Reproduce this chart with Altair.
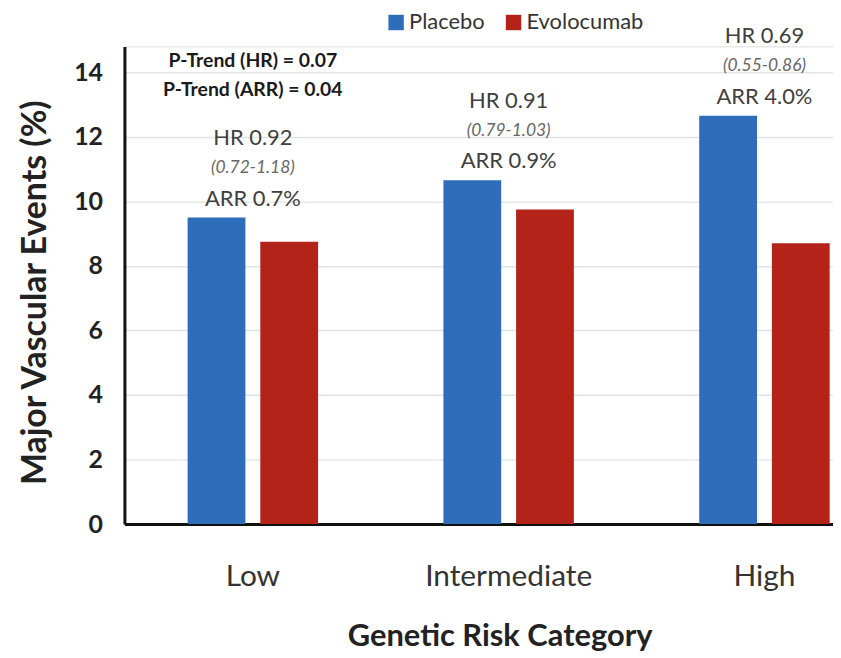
import altair as alt
import pandas as pd

categories = ["Low", "Intermediate", "High"]
series = ["Placebo", "Evolocumab"]
placebo = [9.5, 10.65, 12.65]
evolocumab = [8.75, 9.75, 8.7]
hr_text = ["HR 0.92", "HR 0.91", "HR 0.69"]
ci_text = ["(0.72-1.18)", "(0.79-1.03)", "(0.55-0.86)"]
arr_text = ["ARR 0.7%", "ARR 0.9%", "ARR 4.0%"]
ptrend_text = ["P-Trend (HR) = 0.07", "P-Trend (ARR) = 0.04"]
ptrend_y = [14.35, 13.45]
colors = ["#2E6DB9", "#B3231A"]
y_ticks = [0, 2, 4, 6, 8, 10, 12, 14]

FONT = "Lato"

bars_df = pd.DataFrame({
    "category": categories * 2,
    "series": [series[0]] * 3 + [series[1]] * 3,
    "value": placebo + evolocumab,
})
ann_df = pd.DataFrame({
    "category": categories,
    "placebo": placebo,
    "hr": hr_text,
    "ci": ci_text,
    "arr": arr_text,
})
p_df = pd.DataFrame({
    "category": [categories[0]] * 2,
    "y": ptrend_y,
    "label": ptrend_text,
})

x_scale = alt.Scale(domain=categories, paddingInner=0.49, paddingOuter=0.13, align=0.95)
y_scale = alt.Scale(domain=[0, 14.8], nice=False, zero=True)

x_enc = alt.X(
    "category:N", sort=categories, scale=x_scale,
    axis=alt.Axis(
        title="Genetic Risk Category", labelAngle=0, ticks=False,
        labelFont=FONT, labelFontSize=30, labelColor="#333333", labelPadding=38,
        titleFont=FONT, titleFontSize=31, titleFontWeight="bold", titleColor="#222222",
        titleX=377, titleY=122, titleAlign="center", titleBaseline="alphabetic",
        domainColor="#111111", domainWidth=3, grid=False,
    ),
)

bars = alt.Chart(bars_df).mark_bar().encode(
    x=x_enc,
    xOffset=alt.XOffset("series:N", sort=series,
                        scale=alt.Scale(domain=series, paddingInner=0.205, paddingOuter=0)),
    y=alt.Y(
        "value:Q", scale=y_scale,
        axis=alt.Axis(
            title="Major Vascular Events (%)", values=y_ticks, ticks=False,
            labelFont=FONT, labelFontSize=25, labelFontWeight="bold", labelColor="#222222",
            labelPadding=22, titleFont=FONT, titleFontSize=34, titleFontWeight="bold",
            titleColor="#222222", titlePadding=21, titleY=247, titleAlign="center",
            domainColor="#111111", domainWidth=3,
            gridColor="#e3e3e3", gridWidth=1.5,
        ),
    ),
    color=alt.Color(
        "series:N", sort=series, scale=alt.Scale(domain=series, range=colors),
        legend=alt.Legend(
            title=None, orient="none", legendX=262, legendY=-35, direction="horizontal",
            symbolType="square", symbolSize=240, symbolStrokeWidth=0, labelOffset=2,
            labelFont=FONT, labelFontSize=22, labelColor="#333333", columnPadding=18,
        ),
    ),
)

ann_base = alt.Chart(ann_df).encode(
    x=alt.X("category:N", sort=categories, scale=x_scale),
    y=alt.Y("placebo:Q", scale=y_scale),
)
hr = ann_base.mark_text(font=FONT, fontSize=22, color="#404040", dy=-80, baseline="middle").encode(text="hr:N")
ci = ann_base.mark_text(font=FONT, fontSize=17.5, fontStyle="italic", color="#666666", dy=-50, baseline="middle").encode(text="ci:N")
arr = ann_base.mark_text(font=FONT, fontSize=22, color="#404040", dy=-19, baseline="middle").encode(text="arr:N")

ptrend = alt.Chart(p_df).mark_text(font=FONT, fontSize=19.5, fontWeight="bold", color="#1a1a1a", baseline="middle").encode(
    x=alt.X("category:N", sort=categories, scale=x_scale),
    y=alt.Y("y:Q", scale=y_scale),
    text="label:N",
)

chart = alt.layer(bars, hr, ci, arr, ptrend).properties(
    width=712, height=480,
    autosize=alt.AutoSizeParams(type="none"),
    padding={"left": 117, "top": 37, "right": 0, "bottom": 130},
).configure_view(stroke=None).configure(background="white")

chart.save("out.html", embed_options={"renderer": "svg", "actions": False})
